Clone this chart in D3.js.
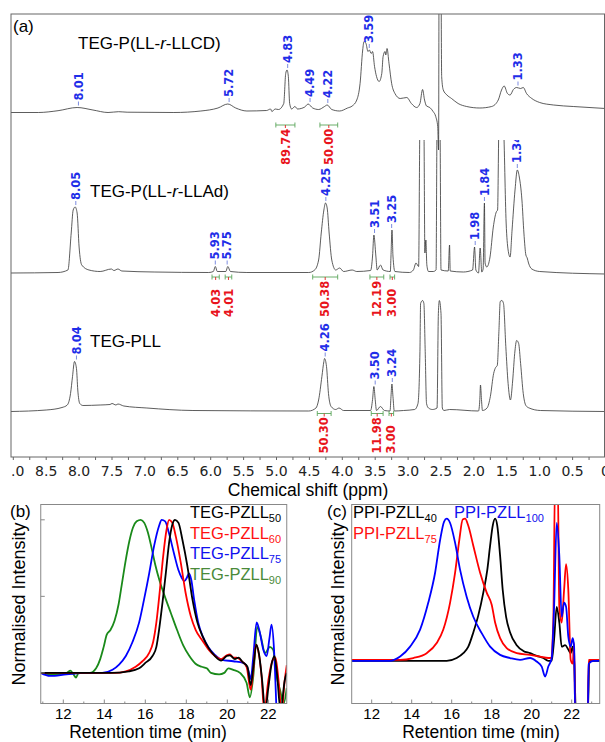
<!DOCTYPE html>
<html><head><meta charset="utf-8">
<script src="https://cdn.jsdelivr.net/npm/d3@7"></script>
<style>body{margin:0;background:#fff}svg{display:block}</style>
</head><body>
<svg id="fig" width="605" height="742"></svg>
<script>
// ---------------- DATA ----------------
// (a) 1H NMR traces: [ppm, intensity (a.u.)]
const ppmTicks = [9.0,8.5,8.0,7.5,7.0,6.5,6.0,5.5,5.0,4.5,4.0,3.5,3.0,2.5,2.0,1.5,1.0,0.5,0];
const nmrNames = ["TEG-P(LL-", "r", "-LLCD)"];
const nmrLLCD = [[9.04,0],[8.62,0],[8.32,1.8],[8.03,5],[7.79,2.5],[7.56,0],[7.4,0.8],[7.27,0.3],[6.56,0],[6.15,1.5],[5.89,4.5],[5.74,8.5],[5.62,4.5],[5.45,1.5],[5.15,2],[5.09,3.5],[5.07,1],[5.02,3.5],[4.97,3],[4.89,9],[4.86,39],[4.84,42.5],[4.82,36],[4.8,9],[4.77,3.5],[4.72,6],[4.68,3.5],[4.57,5.5],[4.52,8.5],[4.45,4.5],[4.36,3],[4.27,6],[4.23,7.5],[4.16,3],[4.04,1.5],[3.92,4.5],[3.85,6.5],[3.78,12.5],[3.73,29],[3.69,62.5],[3.67,71],[3.64,69],[3.61,61],[3.59,62.5],[3.56,59],[3.54,61],[3.51,46],[3.48,36],[3.44,31],[3.40,39],[3.38,56],[3.35,61],[3.34,57.5],[3.32,64],[3.29,49],[3.25,29],[3.2,19],[3.12,14],[3.02,15],[2.95,9],[2.87,5],[2.82,9],[2.78,23],[2.75,12.5],[2.72,6.5],[2.67,5],[2.62,1],[2.58,-4],[2.55,-14],[2.537,-37.5],[2.527,200],[2.505,200],[2.49,36],[2.465,22.5],[2.41,17.5],[2.34,14],[2.24,9],[2.11,6],[1.91,4.5],[1.73,6],[1.63,12.5],[1.58,22.5],[1.54,26.5],[1.49,19],[1.45,17.5],[1.40,23],[1.35,25],[1.29,24],[1.25,25],[1.2,19],[1.12,14],[1.0,10],[0.79,7.5],[0.49,6],[0.0,4]];
const nmrLLAd = [[9.04,0],[8.32,0.5],[8.17,3],[8.12,40],[8.09,63],[8.06,66],[8.03,60],[8.0,26],[7.96,8],[7.85,3],[7.68,1.5],[7.51,4],[7.47,2.5],[7.41,4],[7.35,2],[6.86,1],[6.03,0.5],[5.96,1.5],[5.93,6.5],[5.9,1.5],[5.77,1.5],[5.74,6.5],[5.7,1.5],[5.45,0.5],[4.51,0.5],[4.42,3],[4.36,13],[4.32,40],[4.28,63],[4.255,70],[4.23,65],[4.2,40],[4.16,13],[4.1,3],[4.04,5],[3.98,1.5],[3.85,3],[3.78,1.5],[3.57,2.5],[3.54,17],[3.52,38],[3.49,17],[3.47,3],[3.42,8],[3.38,3],[3.27,1.5],[3.26,17],[3.245,43],[3.23,17],[3.2,1.5],[2.98,0.5],[2.92,3],[2.88,10],[2.84,6.5],[2.82,150],[2.79,170],[2.76,150],[2.745,20],[2.73,33],[2.715,8],[2.69,1.5],[2.62,1.5],[2.575,3],[2.56,150],[2.535,180],[2.515,150],[2.5,3],[2.39,2],[2.37,28],[2.36,2],[2.16,1],[2.02,3],[1.99,26],[1.97,3],[1.93,0],[1.905,25],[1.88,1],[1.86,4],[1.84,70],[1.83,10],[1.805,6],[1.755,16],[1.705,46],[1.66,61],[1.64,63],[1.62,150],[1.59,180],[1.55,150],[1.51,50],[1.48,23],[1.45,16],[1.42,43],[1.375,83],[1.34,103],[1.31,96],[1.27,73],[1.24,40],[1.21,18],[1.19,15],[1.17,10],[1.12,4],[1.0,1.5],[0.0,-1]];
const nmrPLL = [[9.04,0],[8.5,1.5],[8.26,4],[8.18,6.5],[8.13,18],[8.1,35],[8.07,50],[8.04,43],[8.02,21.5],[7.99,8],[7.94,6],[7.68,6.5],[7.53,7],[7.5,8],[7.44,6.5],[7.41,7.5],[7.32,5.5],[6.97,3.5],[6.27,1],[4.51,0.5],[4.4,3.5],[4.36,11.5],[4.31,35],[4.28,50],[4.27,53],[4.24,45],[4.21,18],[4.17,5],[4.1,2],[4.05,3.5],[3.98,1],[3.57,1],[3.54,12],[3.52,25],[3.5,12],[3.48,1],[3.42,5],[3.36,1],[3.275,0.5],[3.26,15],[3.246,27.5],[3.23,15],[3.21,0.5],[3.07,1],[2.9,2],[2.85,8],[2.82,60],[2.81,108],[2.78,111],[2.76,108],[2.74,60],[2.72,8],[2.69,3.5],[2.63,2],[2.56,3.5],[2.54,98],[2.525,111],[2.5,98],[2.48,3.5],[2.455,1],[2.37,2],[1.93,0.5],[1.91,12],[1.9,26.5],[1.885,12],[1.87,1],[1.8,3.5],[1.75,15],[1.70,38],[1.67,44],[1.645,46],[1.62,80],[1.6,110],[1.575,111],[1.55,108],[1.515,65],[1.48,28],[1.445,11.5],[1.41,31.5],[1.38,58],[1.35,71],[1.32,68],[1.29,48],[1.25,18],[1.21,6],[1.16,3.5],[0.99,1],[0.0,0]];
// peak labels (blue) [text, ppm]
const peaksLLCD = [["8.01",8.01],["5.72",5.72],["4.83",4.83],["4.49",4.49],["4.22",4.22],["3.59",3.59],["1.33",1.33]];
const peaksLLAd = [["8.05",8.05],["5.93",5.93],["5.75",5.75],["4.25",4.25],["3.51",3.51],["3.25",3.25],["1.98",1.98],["1.84",1.84],["1.34",1.34]];
const peaksPLL = [["8.04",8.04],["4.26",4.26],["3.50",3.50],["3.24",3.24]];
// integrals (green bracket + red value) [from ppm, to ppm, value]
const intLLCD = [[5.01,4.72,"89.74"],[4.34,4.07,"50.00"]];
const intLLAd = [[5.98,5.87,"4.03"],[5.78,5.68,"4.01"],[4.45,4.07,"50.38"],[3.58,3.37,"12.19"],[3.275,3.205,"3.00"]];
const intPLL = [[4.38,4.17,"50.30"],[3.56,3.38,"11.98"],[3.29,3.22,"3.00"]];

// (b) GPC traces: [retention time (min), normalised intensity]
const gpcTicks = [12,14,16,18,20,22];
const bNames = [["TEG-PZLL","50"],["TEG-PZLL","60"],["TEG-PZLL","75"],["TEG-PZLL","90"]];
const bPZLL50 = [[10.9,0],[12,0],[13,0],[14.3,0],[15.2,0.01],[15.7,0.03],[16.0,0.065],[16.35,0.11],[16.54,0.17],[16.67,0.28],[16.84,0.46],[17.0,0.65],[17.16,0.85],[17.32,0.97],[17.45,1.0],[17.62,0.98],[17.81,0.87],[18.05,0.70],[18.3,0.48],[18.54,0.33],[18.79,0.24],[19.1,0.16],[19.4,0.11],[19.7,0.08],[19.97,0.11],[20.13,0.115],[20.37,0.09],[20.55,0.1],[20.75,0.07],[20.98,0.04],[21.14,-0.08],[21.28,0.05],[21.42,0.185],[21.55,0.12],[21.7,-0.05],[21.85,-0.25],[22.0,-0.1],[22.15,0.05],[22.3,0.11],[22.42,0.0],[22.6,-0.25],[22.8,-0.05],[22.9,0.0]];
const bPZLL60 = [[10.9,0],[12,0],[14.5,0],[15.05,0.01],[15.53,0.04],[15.86,0.076],[16.19,0.13],[16.38,0.2],[16.54,0.33],[16.71,0.54],[16.87,0.76],[17.03,0.93],[17.16,1.0],[17.32,0.98],[17.49,0.89],[17.73,0.72],[17.97,0.52],[18.22,0.37],[18.46,0.28],[18.79,0.21],[19.1,0.15],[19.4,0.11],[19.7,0.09],[19.97,0.115],[20.13,0.12],[20.29,0.1],[20.46,0.1],[20.7,0.076],[20.94,0.04],[21.14,-0.11],[21.27,0.02],[21.4,0.185],[21.5,0.15],[21.67,-0.02],[21.8,-0.25],[22.0,-0.05],[22.2,0.08],[22.35,0.1],[22.5,-0.05],[22.65,-0.25],[22.8,-0.05],[22.9,0.05]];
const bPZLL75 = [[10.9,0],[11.35,-0.02],[12.16,-0.01],[13.14,0],[13.9,0],[14.4,0.02],[14.72,0.054],[15.05,0.11],[15.37,0.2],[15.7,0.33],[15.94,0.48],[16.19,0.65],[16.43,0.83],[16.67,0.96],[16.8,1.0],[16.97,0.99],[17.16,0.91],[17.4,0.78],[17.62,0.67],[17.78,0.62],[17.9,0.6],[18.02,0.62],[18.13,0.65],[18.24,0.61],[18.38,0.48],[18.58,0.33],[18.83,0.23],[19.07,0.17],[19.38,0.12],[19.7,0.087],[20.29,0.076],[20.78,0.065],[21.02,0.02],[21.14,-0.04],[21.27,0.11],[21.43,0.33],[21.56,0.28],[21.76,0.15],[21.92,0.11],[22.05,0.22],[22.16,0.315],[22.28,0.15],[22.4,-0.25]];
const bPZLL90 = [[10.9,0],[11.5,-0.01],[12.16,0],[12.35,0.015],[12.5,-0.01],[12.62,-0.03],[12.75,0],[13.3,0],[13.6,0.03],[13.8,0.09],[13.97,0.17],[14.12,0.25],[14.3,0.28],[14.5,0.34],[14.7,0.45],[14.88,0.6],[15.05,0.74],[15.22,0.86],[15.4,0.95],[15.58,0.99],[15.78,1.0],[15.95,0.98],[16.12,0.92],[16.3,0.82],[16.48,0.71],[16.7,0.6],[16.95,0.5],[17.25,0.39],[17.55,0.28],[17.85,0.18],[18.15,0.11],[18.45,0.06],[18.75,0.04],[19.0,0.03],[19.2,0],[19.6,-0.01],[19.85,0],[20.05,0.03],[20.29,0.02],[20.62,0],[20.94,-0.065],[21.1,-0.16],[21.27,-0.02],[21.46,0.3],[21.63,0.24],[21.84,0.13],[22.08,0.17],[22.24,0.15],[22.4,-0.02],[22.57,-0.11],[22.75,-0.2],[22.9,-0.1]];

// (c)
const cNames = [["PPI-PZLL","40"],["PPI-PZLL","100"],["PPI-PZLL","75"]];
const cPZLL40 = [[11.0,0],[15.75,0],[16.25,0.02],[16.58,0.054],[16.83,0.1],[17.08,0.2],[17.33,0.32],[17.58,0.48],[17.78,0.64],[17.92,0.81],[18.05,0.95],[18.17,1.0],[18.28,0.95],[18.42,0.74],[18.55,0.5],[18.72,0.31],[18.92,0.2],[19.25,0.11],[19.58,0.07],[19.92,0.054],[20.25,0.035],[20.58,0.02],[20.83,0],[21.0,0],[21.12,0.15],[21.25,0.38],[21.38,0.27],[21.5,0.1],[21.67,0.11],[21.83,0.08],[21.95,0.054],[22.05,0.1],[22.13,-0.02],[22.22,-0.4],[22.8,-0.4],[22.88,0],[23.4,0]];
const cPZLL100 = [[11.0,0],[12.92,0],[13.42,0.03],[13.92,0.1],[14.42,0.22],[14.83,0.41],[15.17,0.62],[15.42,0.85],[15.62,0.98],[15.75,1.0],[15.92,0.97],[16.17,0.83],[16.42,0.64],[16.75,0.45],[17.08,0.31],[17.5,0.195],[17.92,0.1],[18.42,0.042],[18.92,0.02],[19.42,0.007],[19.92,0.02],[20.25,-0.005],[20.5,-0.04],[20.67,-0.11],[20.83,-0.04],[21.0,0.02],[21.12,0.38],[21.25,0.97],[21.38,0.74],[21.5,0.31],[21.62,0.41],[21.72,0.38],[21.83,0.17],[21.95,0.1],[22.05,0.16],[22.12,0.1],[22.18,-0.4],[22.8,-0.4],[22.85,-0.02],[23.08,0],[23.4,0]];
const cPZLL75 = [[11.0,0.007],[13.42,0.007],[14.08,0.02],[14.75,0.054],[15.25,0.125],[15.58,0.22],[15.92,0.41],[16.17,0.62],[16.38,0.85],[16.55,0.995],[16.67,1.0],[16.83,0.95],[17.08,0.81],[17.42,0.62],[17.75,0.48],[18.0,0.395],[18.17,0.27],[18.42,0.16],[18.75,0.09],[19.25,0.054],[19.92,0.042],[20.42,0.03],[20.83,0.02],[20.95,0.02],[21.08,0.27],[21.17,1.3],[21.3,1.3],[21.38,0.38],[21.5,0.27],[21.62,0.5],[21.72,0.68],[21.83,0.5],[21.95,0.007],[22.05,-0.02],[22.12,0.125],[22.18,-0.4],[22.8,-0.4],[22.85,0.007],[23.4,0.007]];

// ---------------- DRAW ----------------
const svg = d3.select("#fig");
const defs = svg.append("defs");
const AR = "Liberation Sans, Arial, sans-serif";
const DV = "DejaVu Sans, Verdana, sans-serif";

// ===== Panel (a) =====
const A = {l:11, r:604.5, t:14, b:457};
const xA = d3.scaleLinear().domain([9,0]).range([13.3,605.5]);
const yA = d3.scaleLinear().domain([0,443]).range([A.b, A.t]);
defs.append("clipPath").attr("id","clipA").append("rect").attr("x",A.l).attr("y",A.t).attr("width",A.r-A.l).attr("height",A.b-A.t);
defs.append("clipPath").attr("id","clipA2").append("rect").attr("x",A.l).attr("y",140).attr("width",A.r-A.l).attr("height",A.b-140);
defs.append("clipPath").attr("id","clipAx").append("rect").attr("x",A.l).attr("y",A.b).attr("width",600).attr("height",60);

const traces = [
  {data:nmrLLCD, peaks:peaksLLCD, ints:intLLCD, off:344.5, brk:12.5, clip:"clipA"},
  {data:nmrLLAd, peaks:peaksLLAd, ints:intLLAd, off:184, brk:4, clip:"clipA2"},
  {data:nmrPLL, peaks:peaksPLL, ints:intPLL, off:45.5, brk:2, clip:"clipA"}
];
const gA = svg.append("g").attr("clip-path","url(#clipA)");
traces.forEach(tr => {
  const g = gA.append("g").attr("clip-path","url(#"+tr.clip+")");
  const line = d3.line().x(d=>xA(d[0])).y(d=>yA(tr.off+d[1])).curve(d3.curveMonotoneX);
  g.append("path").datum(tr.data).attr("d",line).attr("fill","none").attr("stroke","#333").attr("stroke-width",0.8);
  tr.peaks.forEach(([txt,p]) => {
    const near = tr.data.filter(d=>Math.abs(d[0]-p)<=0.04);
    const h = d3.max(near, d=>d[1]);
    const yp = yA(tr.off+h);
    const x = xA(p);
    g.append("line").attr("x1",x).attr("x2",x).attr("y1",yp-6).attr("y2",yp-2).attr("stroke","#5a6fd8").attr("stroke-width",0.8);
    g.append("text").attr("transform",`translate(${x},${yp-7}) rotate(-90)`)
      .attr("dy","0.36em").attr("fill","#1f2ee8").attr("font-family",DV).attr("font-weight","bold").attr("font-size",11.5).text(txt);
  });
  const yb = yA(tr.off) + tr.brk;
  tr.ints.forEach(([a,b,v]) => {
    const x1 = xA(a), x2 = xA(b), xm = (x1+x2)/2;
    const gg = g.append("g").attr("stroke","#5aa55a").attr("stroke-width",0.9);
    gg.append("line").attr("x1",x1).attr("x2",x2).attr("y1",yb).attr("y2",yb);
    gg.append("line").attr("x1",x1).attr("x2",x1).attr("y1",yb-2.5).attr("y2",yb+2.5);
    gg.append("line").attr("x1",x2).attr("x2",x2).attr("y1",yb-2.5).attr("y2",yb+2.5);
    gg.append("line").attr("x1",xm).attr("x2",xm).attr("y1",yb).attr("y2",yb+3).attr("stroke","#e02020");
    g.append("text").attr("transform",`translate(${xm},${yb+40}) rotate(-90)`)
      .attr("dy","0.36em").attr("fill","#e8141c").attr("font-family",DV).attr("font-weight","bold").attr("font-size",11.5).text(v);
  });
});
svg.append("rect").attr("x",A.l).attr("y",A.t).attr("width",A.r-A.l).attr("height",A.b-A.t).attr("fill","none").attr("stroke","#666").attr("stroke-width",1);
const minor = d3.range(0, 9.01, 0.25);
svg.append("g").selectAll("line").data(minor).join("line")
  .attr("x1",d=>xA(d)).attr("x2",d=>xA(d)).attr("y1",A.b).attr("y2",A.b+3).attr("stroke","#666");
svg.append("g").attr("clip-path","url(#clipAx)").selectAll("text").data(ppmTicks).join("text")
  .attr("x",d=>xA(d)).attr("y",A.b+19).attr("text-anchor","middle").attr("font-family",DV).attr("font-size",14).attr("fill","#222")
  .text(d=> d===0 ? "0" : d.toFixed(1));
svg.append("text").attr("x",308).attr("y",496).attr("text-anchor","middle").attr("font-family",AR).attr("font-size",17.5).text("Chemical shift (ppm)");
svg.append("text").attr("x",13).attr("y",32).attr("font-family",AR).attr("font-size",17).text("(a)");
function nameText(x,y,parts){
  const t = svg.append("text").attr("x",x).attr("y",y).attr("font-family",AR).attr("font-size",17);
  parts.forEach((p,i)=>{ const s=t.append("tspan").text(p); if(i===1) s.attr("font-style","italic"); });
}
nameText(78,49,nmrNames);
nameText(90,197,["TEG-P(LL-","r","-LLAd)"]);
nameText(90,347,["TEG-PLL"]);

// ===== GPC panels =====
function gpcPanel(o){
  const x = d3.scaleLinear().domain(o.xd).range([o.l,o.r]);
  const y = d3.scaleLinear().domain(o.yd).range([o.b,o.t]);
  const id = "clip"+o.id;
  defs.append("clipPath").attr("id",id).append("rect").attr("x",o.l).attr("y",o.t).attr("width",o.r-o.l).attr("height",o.b-o.t);
  const g = svg.append("g").attr("clip-path",`url(#${id})`);
  const line = d3.line().x(d=>x(d[0])).y(d=>y(d[1])).curve(d3.curveMonotoneX);
  o.series.forEach(s=>{
    g.append("path").datum(s.data).attr("d",line).attr("fill","none").attr("stroke",s.color).attr("stroke-width",1.8);
  });
  svg.append("rect").attr("x",o.l).attr("y",o.t).attr("width",o.r-o.l).attr("height",o.b-o.t).attr("fill","none").attr("stroke","#888").attr("stroke-width",1);
  svg.append("g").selectAll("line").data(d3.range(11,24,1).filter(v=>x(v)>o.l+1&&x(v)<o.r-1)).join("line")
    .attr("x1",d=>x(d)).attr("x2",d=>x(d)).attr("y1",o.b).attr("y2",d=>o.b-(d%2===0?4:2)).attr("stroke","#888");
  svg.append("g").selectAll("text").data(gpcTicks).join("text")
    .attr("x",d=>x(d)).attr("y",719).attr("text-anchor","middle").attr("font-family",AR).attr("font-size",15).text(d=>d);
  if(o.yt){
    svg.append("g").selectAll("line").data(o.yt).join("line")
      .attr("x1",o.l).attr("x2",o.l+4).attr("y1",d=>y(d)).attr("y2",d=>y(d)).attr("stroke","#888");
  }
  svg.append("text").attr("x",o.xlab).attr("y",738.3).attr("text-anchor","middle").attr("font-family",AR).attr("font-size",17.5).text("Retention time (min)");
  svg.append("text").attr("transform",`translate(${o.ylab},${(o.t+o.b)/2}) rotate(-90)`).attr("text-anchor","middle").attr("dy","0.36em")
    .attr("font-family",AR).attr("font-size",18).text("Normalised Intensity");
  svg.append("text").attr("x",o.tag[0]).attr("y",o.tag[1]).attr("font-family",AR).attr("font-size",17).text(o.tagText);
  o.legend.forEach(L=>{
    const t = svg.append("text").attr("x",L.x).attr("y",L.y).attr("font-family",AR).attr("font-size",16.5).attr("fill",L.color);
    t.append("tspan").text(L.name[0]);
    t.append("tspan").attr("dy",4).attr("font-size",11).text(L.name[1]);
  });
}
gpcPanel({id:"B", l:40.75, r:286.75, t:504.5, b:703.5, xd:[10.9,22.9], yd:[-0.2,1.1], yt:[0,0.5,1],
  series:[{data:bPZLL90,color:"#1a8a1a"},{data:bPZLL75,color:"#0000ff"},{data:bPZLL60,color:"#ff0000"},{data:bPZLL50,color:"#000"}],
  xlab:148, ylab:18.5, tag:[10,517], tagText:"(b)",
  legend:[{name:bNames[0],x:190,y:517.5,color:"#000"},{name:bNames[1],x:190,y:538.5,color:"#ff1010"},{name:bNames[2],x:190,y:559,color:"#1010ee"},{name:bNames[3],x:190,y:579.5,color:"#4a8a3a"}]});
gpcPanel({id:"C", l:351.7, r:599.7, t:504.5, b:703.5, xd:[11.0,23.4], yd:[-0.3,1.1], yt:null,
  series:[{data:cPZLL40,color:"#000"},{data:cPZLL75,color:"#ff0000"},{data:cPZLL100,color:"#0000ff"}],
  xlab:481, ylab:338, tag:[327,517], tagText:"(c)",
  legend:[{name:cNames[0],x:353,y:517.5,color:"#000"},{name:cNames[1],x:454,y:517.5,color:"#1010ee"},{name:cNames[2],x:353,y:539,color:"#ff1010"}]});
</script>
</body></html>
